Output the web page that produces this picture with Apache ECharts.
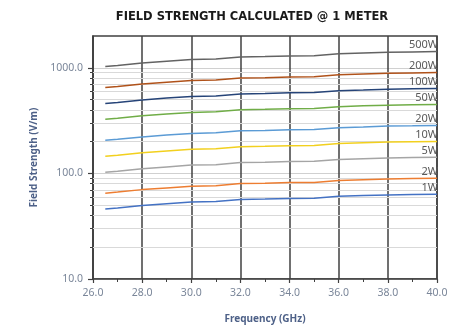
<!DOCTYPE html>
<html><head><meta charset="utf-8">
<script src="https://cdn.jsdelivr.net/npm/echarts@6/dist/echarts.min.js"></script>
<style>html,body{margin:0;padding:0;background:#fff}#c{width:472px;height:329px}</style>
</head><body><div id="c"></div>
<script>
const freqs = [26.5, 27, 28, 29, 30, 31, 32, 33, 34, 35, 36, 37, 38, 39, 40];
const names = ['1W','2W','5W','10W','20W','50W','100W','200W','500W'];
const s1W   = [45.9, 47.0, 49.6, 51.6, 53.5, 54.2, 56.6, 57.1, 57.8, 58.2, 60.6, 61.6, 62.6, 63.2, 63.6];
const s2W   = [65.0, 66.6, 70.2, 72.8, 75.6, 76.5, 80.1, 80.6, 81.8, 82.2, 85.6, 87.0, 88.5, 89.5, 90.2];
const s5W   = [102.6, 105.0, 110.8, 115.2, 119.8, 121.0, 126.8, 127.6, 129.3, 130.0, 135.4, 137.8, 140.1, 141.2, 142.4];
const s10W  = [145.5, 148.8, 156.5, 163.0, 169.4, 171.2, 179.2, 180.4, 183.0, 184.2, 191.4, 195.0, 198.0, 199.6, 201.0];
const s20W  = [206.0, 210.5, 221.5, 231.0, 239.0, 242.6, 253.4, 255.0, 258.8, 260.0, 271.2, 275.2, 280.4, 282.4, 284.8];
const s50W  = [326, 332, 351, 365, 378, 384, 400, 404, 409, 411, 428, 436, 443, 447, 450];
const s100W = [460, 470, 496, 517, 535, 542, 566, 571, 579, 582, 606, 616, 627, 632, 637];
const s200W = [650, 665, 701, 729, 758, 766, 801, 806, 818, 822, 857, 871, 886, 894, 900];
const s500W = [1026, 1052, 1108, 1155, 1196, 1213, 1266, 1276, 1293, 1300, 1355, 1378, 1400, 1412, 1424];
const seriesValues = [s1W, s2W, s5W, s10W, s20W, s50W, s100W, s200W, s500W];
const colors = ['#4472C4','#ED7D31','#A5A5A5','#F2D01E','#5B9BD5','#70AD47','#264478','#B0521A','#636363'];
const yMajorTicks = [10, 100, 1000];
const yMinorGrid = [20,30,40,50,60,70,80,90,200,300,400,500,600,700,800,900];
const xMin = 26, xMax = 40, xInterval = 2, yMin = 10, yMax = 2000;

const chart = echarts.init(document.getElementById('c'));
const series = seriesValues.map((vals, i) => ({
  name: names[i], type: 'line', showSymbol: false, symbol: 'none',
  lineStyle: { color: colors[i], width: 1.5 }, itemStyle: { color: colors[i] },
  z: 5,
  endLabel: { show: true, formatter: names[i], distance: 0, align: 'right', verticalAlign: 'bottom',
    offset: [1, -1], color: '#595959', fontSize: 11, fontFamily: 'Noto Sans' },
  data: vals.map((v, j) => [freqs[j], v])
}));
series.push({
  type: 'line', data: [], silent: true, z: 1,
  markLine: {
    silent: true, symbol: 'none', label: { show: false },
    lineStyle: { color: '#d9d9d9', type: 'solid', width: 1 },
    data: yMinorGrid.map(v => ({ yAxis: v }))
  }
});
const fontLbl = { fontFamily: 'Noto Sans', fontSize: 10.5, color: '#7a8699' };
chart.setOption({
  animation: false,
  title: {
    text: 'FIELD STRENGTH CALCULATED @ 1 METER', left: 247, top: 6, textAlign: 'center',
    textStyle: { fontFamily: 'DejaVu Sans', fontWeight: 'bold', fontSize: 11.5, color: '#1a1a1a' }
  },
  grid: { left: 93, right: 35, top: 36, bottom: 47, show: true, borderColor: '#404040', borderWidth: 1.5, backgroundColor: 'transparent' },
  xAxis: {
    type: 'value', min: xMin, max: xMax, interval: xInterval,
    name: 'Frequency (GHz)', nameLocation: 'middle', nameGap: 35,
    nameTextStyle: { fontFamily: 'Noto Sans', fontWeight: 'bold', fontSize: 10, color: '#4e6188' },
    axisLine: { show: true, lineStyle: { color: '#404040', width: 1.5 } },
    axisTick: { show: true, length: 4, lineStyle: { color: '#404040', width: 1.2 } },
    minorTick: { show: true, splitNumber: 2, length: 3, lineStyle: { color: '#404040', width: 1 } },
    axisLabel: Object.assign({ formatter: v => v.toFixed(1), margin: 9 }, fontLbl),
    splitLine: { show: true, lineStyle: { color: '#404040', width: 1.5 } }
  },
  yAxis: [{
    type: 'log', logBase: 10, min: yMin, max: yMax,
    name: 'Field Strength (V/m)', nameLocation: 'middle', nameGap: 51,
    nameTextStyle: { fontFamily: 'Noto Sans', fontWeight: 'bold', fontSize: 10, color: '#4e6188' },
    axisLine: { show: true, lineStyle: { color: '#404040', width: 1.5 } },
    axisTick: { show: true, length: 5, customValues: yMajorTicks, lineStyle: { color: '#404040', width: 1.2 } },
    axisLabel: Object.assign({ customValues: yMajorTicks, formatter: v => Number(v).toFixed(1), margin: 10 }, fontLbl),
    splitLine: { show: true, lineStyle: { color: '#d0d0d0', width: 1 } }
  }, {
    type: 'log', logBase: 10, min: yMin, max: yMax, position: 'left',
    axisLine: { show: false }, axisLabel: { show: false }, splitLine: { show: false },
    axisTick: { show: true, length: 3, customValues: yMinorGrid, lineStyle: { color: '#404040', width: 1 } }
  }],
  series: series
});
</script></body></html>
